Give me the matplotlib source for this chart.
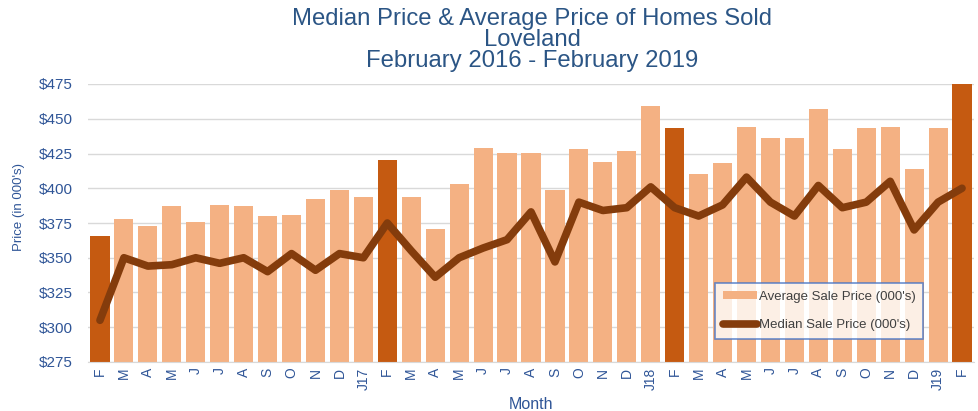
import matplotlib.pyplot as plt

plt.rcParams["font.family"] = ["Liberation Sans", "DejaVu Sans"]

# Month labels, Feb 2016 - Feb 2019
months = ["F", "M", "A", "M", "J", "J", "A", "S", "O", "N", "D", "J17",
          "F", "M", "A", "M", "J", "J", "A", "S", "O", "N", "D", "J18",
          "F", "M", "A", "M", "J", "J", "A", "S", "O", "N", "D", "J19",
          "F"]

# Average sale price (000's)
average = [366, 378, 373, 387, 376, 388, 387, 380, 381, 392, 399, 394,
           420, 394, 371, 403, 429, 425, 425, 399, 428, 419, 427, 459,
           443, 410, 418, 444, 436, 436, 457, 428, 443, 444, 414, 443,
           475]

# Median sale price (000's)
median = [305, 350, 344, 345, 350, 346, 350, 340, 353, 341, 353, 350,
          375, 355, 336, 350, 357, 363, 383, 347, 390, 384, 386, 401,
          386, 380, 388, 408, 390, 380, 402, 386, 390, 405, 370, 390,
          400]

title_lines = ["Median Price & Average Price of Homes Sold", "Loveland",
               "February 2016 - February 2019"]

light = "#F4B183"
dark = "#C55A11"
line_col = "#843C0C"
text_col = "#2F5597"

x = list(range(len(months)))
colors = [dark if m == "F" else light for m in months]

fig = plt.figure(figsize=(9.79, 4.11), dpi=100)
ax = fig.add_axes([88 / 979, 1 - 362 / 411, (974 - 88) / 979, (362 - 84) / 411])

bars = ax.bar(x, [v - 275 for v in average], bottom=275, width=0.8,
              color=colors, zorder=2)
ln, = ax.plot(x, median, color=line_col, linewidth=5.5, zorder=3,
              solid_capstyle="round", solid_joinstyle="round")

ax.set_ylim(275, 475)
ax.set_xlim(-0.5, 36.5)
ax.set_yticks(range(275, 476, 25))
ax.set_yticklabels(["$%d" % v for v in range(275, 476, 25)])
ax.set_xticks(x)
ax.set_xticklabels(months, rotation=90)
ax.tick_params(axis="y", length=0, labelsize=11, labelcolor=text_col, pad=11)
ax.tick_params(axis="x", length=0, labelsize=10, labelcolor=text_col, pad=4)

ax.grid(axis="y", color="#D9D9D9", linewidth=1, zorder=0)
for s in ["top", "right", "left"]:
    ax.spines[s].set_visible(False)
ax.spines["bottom"].set_color("#D9D9D9")

ax.set_ylabel("Price (in 000's)", color=text_col, fontsize=9.5)
ax.yaxis.set_label_coords(-0.071, 0.557)
ax.set_xlabel("Month", color=text_col, fontsize=11.5, labelpad=5)

for i, t in enumerate(title_lines):
    fig.text(532 / 979, 1 - (19 + 21 * i) / 411, t, ha="center", va="center",
             color="#2B5585", fontsize=17.2)

leg = ax.legend([bars.patches[1], ln],
                ["Average Sale Price (000's)", "Median Sale Price (000's)"],
                loc="upper left", bbox_to_anchor=((715 - 88) / 886, (362 - 283) / 278),
                borderaxespad=0, frameon=True, fancybox=False, fontsize=9.5,
                labelspacing=1.2, handlelength=2.6, handleheight=0.5,
                handletextpad=0.1, borderpad=0.6)
leg.get_frame().set_edgecolor("#4472C4")
leg.get_frame().set_linewidth(1.2)
for t in leg.get_texts():
    t.set_color("#404040")

fig.savefig("out.png", dpi=100)
